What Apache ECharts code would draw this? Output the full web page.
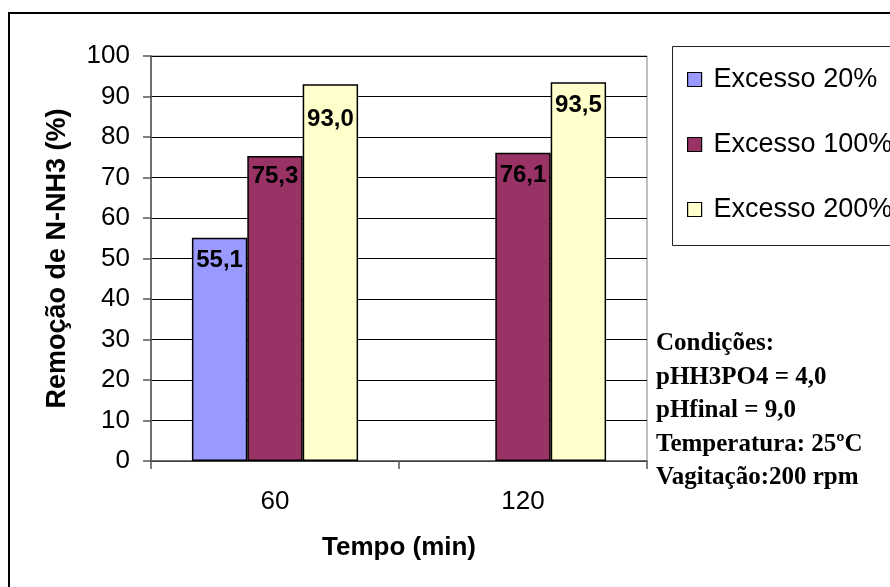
<!DOCTYPE html>
<html>
<head>
<meta charset="utf-8">
<script src="https://cdn.jsdelivr.net/npm/echarts@6/dist/echarts.min.js"></script>
<style>
  html, body { margin: 0; padding: 0; background: #fff; }
  #chart { width: 890px; height: 587px; }
</style>
</head>
<body>
<div id="chart"></div>
<script>
// Time categories (min)
const categories = ['60', '120'];

// N-NH3 removal (%) for each reagent excess
const excess20 = [55.1, null];
const excess100 = [75.3, 76.1];
const excess200 = [93.0, 93.5];

const seriesNames = ['Excesso 20%', 'Excesso 100%', 'Excesso 200%'];
const yTicks = [0, 100, 10]; // min, max, step

const conditions = [
  'Condições:',
  'pHH3PO4 = 4,0',
  'pHfinal = 9,0',
  'Temperatura: 25ºC',
  'Vagitação:200 rpm'
];

const sans = '"Liberation Sans", Arial, sans-serif';
const serif = '"Liberation Serif", "Times New Roman", serif';
const colors = ['#9999FF', '#993366', '#FFFFCC'];

// extra downward nudge for individual value labels: [series][category]
const labelNudge = [[0, 0], [-3, 0], [12, 0]];

const fmt = v => v.toFixed(1).replace('.', ',');

function barSeries(idx, data) {
  return {
    name: seriesNames[idx],
    type: 'bar',
    data: data.map((v, i) => ({
      value: v,
      label: { offset: [0, labelNudge[idx][i]] }
    })),
    barGap: '0%',
    barCategoryGap: '33%',
    itemStyle: { color: colors[idx], borderColor: '#000', borderWidth: 1.5 },
    label: {
      show: true,
      position: 'insideTop',
      distance: 11,
      color: '#000',
      fontFamily: sans,
      fontWeight: 'bold',
      fontSize: 24,
      formatter: p => fmt(p.value)
    }
  };
}

const chart = echarts.init(document.getElementById('chart'), null, { renderer: 'canvas' });

chart.setOption({
  animation: false,
  backgroundColor: '#fff',
  grid: {
    left: 151, top: 56, width: 496, height: 405,
    show: true, borderColor: '#808080', borderWidth: 1,
    containLabel: false
  },
  legend: {
    orient: 'vertical',
    left: 687,
    top: 66,
    padding: 0,
    itemWidth: 14,
    itemHeight: 14,
    itemGap: 38,
    icon: 'rect',
    itemStyle: { borderColor: '#000', borderWidth: 1.2 },
    textStyle: { fontFamily: sans, fontSize: 27, color: '#000', lineHeight: 27, padding: [0, 0, 0, 7] },
    data: seriesNames
  },
  xAxis: {
    type: 'category',
    data: categories,
    name: 'Tempo (min)',
    nameLocation: 'middle',
    nameGap: 74,
    nameTextStyle: { fontFamily: sans, fontWeight: 'bold', fontSize: 26, color: '#000' },
    axisLine: { lineStyle: { color: '#555', width: 1.5 } },
    axisTick: { show: true, length: 8, inside: false, lineStyle: { color: '#555', width: 1.5 } },
    axisLabel: { fontFamily: sans, fontSize: 26, color: '#000', margin: 28 },
    splitLine: { show: false }
  },
  yAxis: {
    type: 'value',
    min: yTicks[0],
    max: yTicks[1],
    interval: yTicks[2],
    name: 'Remoção de N-NH3 (%)',
    nameLocation: 'middle',
    nameRotate: 90,
    nameGap: 80,
    nameTextStyle: { fontFamily: sans, fontWeight: 'bold', fontSize: 27, color: '#000' },
    axisLine: { show: true, lineStyle: { color: '#555', width: 1.5 } },
    axisTick: { show: true, length: 8, inside: false, lineStyle: { color: '#555', width: 1.5 } },
    axisLabel: { fontFamily: sans, fontSize: 26, color: '#000', margin: 21 },
    splitLine: { show: true, lineStyle: { color: '#000', width: 1 } }
  },
  graphic: [
    {
      type: 'rect',
      z: -10,
      shape: { x: 9, y: 13, width: 900, height: 600 },
      style: { fill: 'none', stroke: '#000', lineWidth: 2 }
    },
    {
      type: 'rect',
      z: -5,
      shape: { x: 672.5, y: 46.5, width: 300, height: 199 },
      style: { fill: '#fff', stroke: '#222', lineWidth: 1 }
    },
    {
      type: 'text',
      left: 656,
      top: 327,
      style: {
        text: conditions.join('\n'),
        fontFamily: serif,
        fontWeight: 'bold',
        fontSize: 25,
        lineHeight: 33.5,
        fill: '#000'
      }
    }
  ],
  series: [
    barSeries(0, excess20),
    barSeries(1, excess100),
    barSeries(2, excess200)
  ]
});
</script>
</body>
</html>
